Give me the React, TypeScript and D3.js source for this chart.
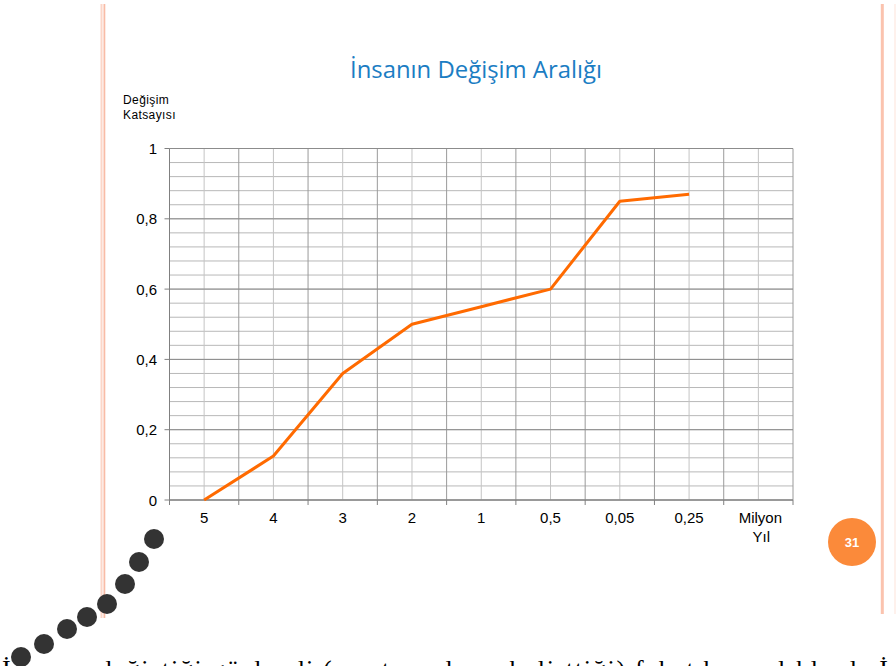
import React from "react";
import * as d3 from "d3";

const categories = ["5", "4", "3", "2", "1", "0,5", "0,05", "0,25", "Milyon Yıl"];
const values: (number | null)[] = [0, 0.125, 0.36, 0.5, 0.55, 0.6, 0.85, 0.87, null];
const yTicks = [0, 0.2, 0.4, 0.6, 0.8, 1];
const yTickLabels = ["0", "0,2", "0,4", "0,6", "0,8", "1"];
const dots = [
  [154, 539], [139, 562], [125, 584], [107, 604], [87, 617], [67, 629], [44, 644], [21, 657],
];

export default function App() {
  const W = 896, H = 666;
  const left = 169.5, right = 793, top = 148.5, bottom = 500;
  const x = d3.scaleBand<string>().domain(categories).range([left, right]).padding(0);
  const y = d3.scaleLinear().domain([0, 1]).range([bottom, top]);
  const minorY = d3.range(0, 1.0001, 0.04);
  const pts = categories
    .map((c, i) => ({ c, v: values[i] }))
    .filter((d) => d.v !== null) as { c: string; v: number }[];
  const line = d3
    .line<{ c: string; v: number }>()
    .x((d) => (x(d.c) as number) + x.bandwidth() / 2)
    .y((d) => y(d.v));
  const bw = x.bandwidth();
  const font = "Liberation Sans, Arial, sans-serif";

  return (
    <svg
      width={W}
      height={H}
      style={{ position: "absolute", left: 0, top: 0, background: "#fff" }}
    >
      {/* slide decorations */}
      <rect x={100.5} y={4} width={2} height={614} fill="#fcd6c8" />
      <rect x={103.5} y={4} width={1.8} height={614} fill="#f9bca6" />
      <rect x={880.8} y={4} width={3} height={610} fill="#fbc3ae" />
      <rect x={894.5} y={4} width={1} height={610} fill="#fde3d9" />

      {/* title */}
      <text x={476} y={78} textAnchor="middle" fontFamily="Open Sans, sans-serif" fontSize={23} fill="#1b7dc3" textLength={252} lengthAdjust="spacingAndGlyphs">
        İnsanın Değişim Aralığı
      </text>

      {/* y axis title */}
      <text x={123} y={104} fontFamily={font} fontSize={12} fill="#000" letterSpacing={0.4}>Değişim</text>
      <text x={123} y={119} fontFamily={font} fontSize={12} fill="#000" letterSpacing={0.4}>Katsayısı</text>

      {/* minor horizontal gridlines */}
      {minorY.map((v, i) => (
        <line key={"mh" + i} x1={left} x2={right} y1={y(v)} y2={y(v)} stroke="#b8b8b8" strokeWidth={1} />
      ))}
      {/* minor vertical gridlines (category centers) */}
      {categories.map((c) => (
        <line key={"mv" + c} x1={(x(c) as number) + bw / 2} x2={(x(c) as number) + bw / 2} y1={top} y2={bottom} stroke="#c4c4c4" strokeWidth={1} />
      ))}
      {/* major vertical gridlines (category boundaries) */}
      {categories.map((c) => (
        <line key={"Mv" + c} x1={(x(c) as number) + bw} x2={(x(c) as number) + bw} y1={top} y2={bottom} stroke="#9a9a9a" strokeWidth={1} />
      ))}
      {/* major horizontal gridlines */}
      {yTicks.map((v) => (
        <line key={"Mh" + v} x1={left} x2={right} y1={y(v)} y2={y(v)} stroke="#8c8c8c" strokeWidth={1} />
      ))}

      {/* y axis */}
      <line x1={left} x2={left} y1={top} y2={bottom} stroke="#808080" strokeWidth={1} />
      {yTicks.map((v, i) => (
        <g key={"yt" + v}>
          <line x1={left - 5} x2={left} y1={y(v)} y2={y(v)} stroke="#808080" />
          <text x={157} y={y(v) + 5.5} textAnchor="end" fontFamily={font} fontSize={15} fill="#000">
            {yTickLabels[i]}
          </text>
        </g>
      ))}

      {/* x axis */}
      <line x1={left} x2={right} y1={bottom} y2={bottom} stroke="#808080" strokeWidth={1} />
      {[left, ...categories.map((c) => (x(c) as number) + bw)].map((xv, i) => (
        <line key={"xt" + i} x1={xv} x2={xv} y1={bottom} y2={bottom + 5} stroke="#808080" />
      ))}
      {categories.map((c) => {
        const cx = (x(c) as number) + bw / 2;
        if (c === "Milyon Yıl") {
          return (
            <text key={"xl" + c} x={cx + 2} y={523} textAnchor="middle" fontFamily={font} fontSize={15} fill="#000">
              <tspan x={cx + 2}>Milyon</tspan>
              <tspan x={cx + 3} dy={19}>Yıl</tspan>
            </text>
          );
        }
        return (
          <text key={"xl" + c} x={cx} y={523} textAnchor="middle" fontFamily={font} fontSize={15} fill="#000">
            {c}
          </text>
        );
      })}

      {/* data line */}
      <path d={line(pts) || ""} fill="none" stroke="#ff6a00" strokeWidth={3} strokeLinejoin="round" />

      {/* page number */}
      <circle cx={852} cy={542} r={24} fill="#fb8a3a" />
      <text x={852} y={547} textAnchor="middle" fontFamily={font} fontSize={13} fontWeight="bold" fill="#fff">31</text>

      {/* bullet dots */}
      {dots.map(([cx, cy], i) => (
        <circle key={"d" + i} cx={cx} cy={cy} r={10} fill="#333333" />
      ))}

      {/* cut-off body text */}
      <text x={2} y={678} fontFamily="Liberation Serif, Times New Roman, serif" fontSize={26} fill="#000" textLength={886} lengthAdjust="spacing">
        İnsanın değiştiği gözlendi (araştırmaların belirttiği) fakat bu aralıklarda İ
      </text>
    </svg>
  );
}
